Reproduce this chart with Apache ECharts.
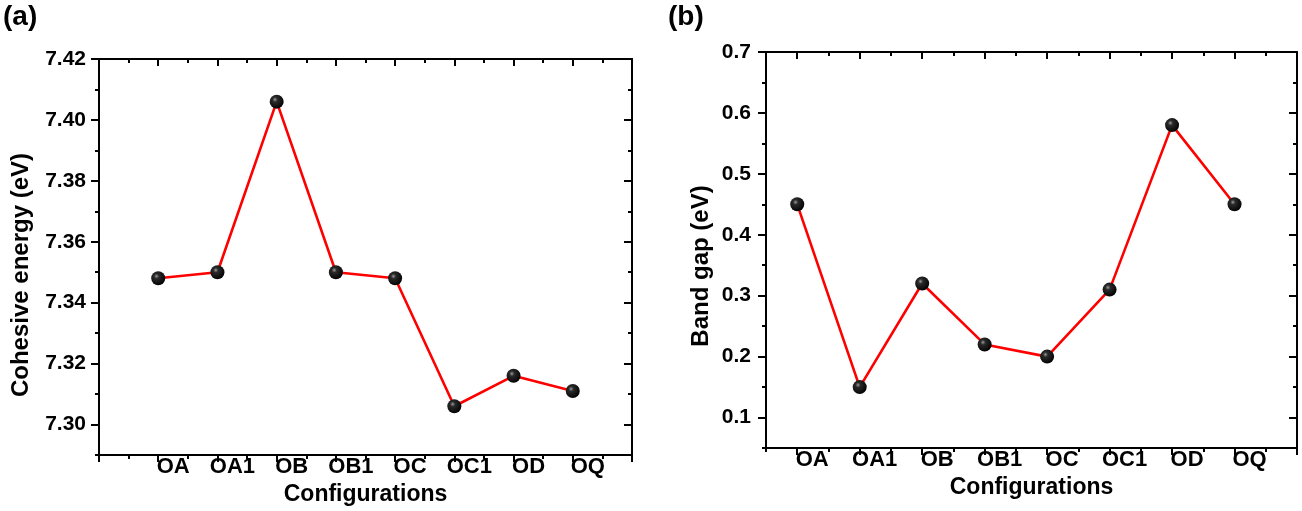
<!DOCTYPE html>
<html>
<head>
<meta charset="utf-8">
<script src="https://cdn.jsdelivr.net/npm/echarts@6/dist/echarts.min.js"></script>
<style>
html,body{margin:0;padding:0;background:#fff;}
#c{width:1302px;height:511px;}
</style>
</head>
<body>
<div id="c"></div>
<script>
// ---- data ----
const categories = ['OA', 'OA1', 'OB', 'OB1', 'OC', 'OC1', 'OD', 'OQ'];
const cohesiveEnergy = [7.348, 7.350, 7.406, 7.350, 7.348, 7.306, 7.316, 7.311];
const bandGap = [0.45, 0.15, 0.32, 0.22, 0.20, 0.31, 0.58, 0.45];
const cohesiveTicks = [7.30, 7.32, 7.34, 7.36, 7.38, 7.40, 7.42];
const cohesiveMinorTicks = [7.29, 7.31, 7.33, 7.35, 7.37, 7.39, 7.41];
const gapTicks = [0.1, 0.2, 0.3, 0.4, 0.5, 0.6, 0.7];
const gapMinorTicks = [0.05, 0.15, 0.25, 0.35, 0.45, 0.55, 0.65];
const catPositions = [1, 2, 3, 4, 5, 6, 7, 8];
const xMajorA = [0, 1, 2, 3, 4, 5, 6, 7, 8, 9];
const xMinorA = [0.5, 1.5, 2.5, 3.5, 4.5, 5.5, 6.5, 7.5, 8.5];
const xMajorB = [1, 2, 3, 4, 5, 6, 7, 8, 9];
const xMinorB = [0.5, 1.5, 2.5, 3.5, 4.5, 5.5, 6.5, 7.5, 8.5];

const FONT = "'Liberation Sans', Arial, sans-serif";
const BLACK = '#000';
const lineStyle = { color: BLACK, width: 2 };

function xAxesFor(g, min, max, majors, minors, nameGap) {
  const base = { gridIndex: g, type: 'value', min: min, max: max, splitLine: { show: false } };
  return [
    Object.assign({}, base, {
      position: 'bottom',
      axisLine: { show: true, onZero: false, lineStyle: lineStyle },
      axisTick: { show: true, inside: false, length: 7, customValues: majors, lineStyle: lineStyle },
      axisLabel: {
        show: true, customValues: catPositions, margin: 1,
        formatter: function (v) { return categories[Math.round(v) - 1] || ''; },
        color: BLACK, fontFamily: FONT, fontWeight: 'bold', fontSize: 22,
        align: 'center', padding: [0, 0, 0, 30]
      },
      name: 'Configurations', nameLocation: 'middle', nameGap: nameGap,
      nameTextStyle: { color: BLACK, fontFamily: FONT, fontWeight: 'bold', fontSize: 23 }
    }),
    Object.assign({}, base, {
      position: 'bottom',
      axisLine: { show: false, onZero: false },
      axisTick: { show: true, inside: false, length: 4, customValues: minors, lineStyle: lineStyle },
      axisLabel: { show: false }
    }),
    Object.assign({}, base, {
      position: 'top',
      axisLine: { show: true, onZero: false, lineStyle: lineStyle },
      axisTick: { show: true, inside: true, length: 7, customValues: majors, lineStyle: lineStyle },
      axisLabel: { show: false }
    }),
    Object.assign({}, base, {
      position: 'top',
      axisLine: { show: false, onZero: false },
      axisTick: { show: true, inside: true, length: 4, customValues: minors, lineStyle: lineStyle },
      axisLabel: { show: false }
    })
  ];
}

function yAxesFor(g, min, max, majors, minors, digits, name, nameGap, shift, margin) {
  const base = { gridIndex: g, type: 'value', min: min, max: max, splitLine: { show: false } };
  return [
    Object.assign({}, base, {
      position: 'left',
      axisLine: { show: true, onZero: false, lineStyle: lineStyle },
      axisTick: { show: true, inside: false, length: 8, customValues: majors, lineStyle: lineStyle },
      axisLabel: {
        show: true, customValues: majors, margin: margin,
        formatter: function (v) { return v.toFixed(digits); },
        color: BLACK, fontFamily: FONT, fontWeight: 'bold', fontSize: 21
      },
      name: name, nameLocation: 'middle', nameGap: nameGap,
      nameTextStyle: { color: BLACK, fontFamily: FONT, fontWeight: 'bold', fontSize: 24, padding: [0, shift * 2, 0, 0] }
    }),
    Object.assign({}, base, {
      position: 'left',
      axisLine: { show: false, onZero: false },
      axisTick: { show: true, inside: false, length: 4, customValues: minors, lineStyle: lineStyle },
      axisLabel: { show: false }
    }),
    Object.assign({}, base, {
      position: 'right',
      axisLine: { show: true, onZero: false, lineStyle: lineStyle },
      axisTick: { show: true, inside: true, length: 8, customValues: majors, lineStyle: lineStyle },
      axisLabel: { show: false }
    }),
    Object.assign({}, base, {
      position: 'right',
      axisLine: { show: false, onZero: false },
      axisTick: { show: true, inside: true, length: 4, customValues: minors, lineStyle: lineStyle },
      axisLabel: { show: false }
    })
  ];
}

const markerStyle = {
  color: {
    type: 'radial', x: 0.38, y: 0.35, r: 0.7,
    colorStops: [
      { offset: 0, color: '#9a9a9a' },
      { offset: 0.25, color: '#2a2a2a' },
      { offset: 1, color: '#000' }
    ]
  },
  borderWidth: 0
};

function toPoints(values) {
  return values.map(function (v, i) { return [catPositions[i], v]; });
}

const option = {
  animation: false,
  backgroundColor: '#fff',
  title: [
    { text: '(a)', left: -2, top: -2, textStyle: { fontFamily: FONT, fontWeight: 'bold', fontSize: 28, color: BLACK } },
    { text: '(b)', left: 663, top: -2, textStyle: { fontFamily: FONT, fontWeight: 'bold', fontSize: 28, color: BLACK } }
  ],
  grid: [
    { left: 99, top: 59, width: 533, height: 396 },
    { left: 766, top: 52, width: 531, height: 396 }
  ],
  xAxis: [].concat(
    xAxesFor(0, 0, 9, xMajorA, xMinorA, 26),
    xAxesFor(1, 0.5, 9, xMajorB, xMinorB, 28)
  ),
  yAxis: [].concat(
    yAxesFor(0, 7.29, 7.42, cohesiveTicks, cohesiveMinorTicks, 2, 'Cohesive energy (eV)', 66, 18, 13),
    yAxesFor(1, 0.05, 0.7, gapTicks, gapMinorTicks, 1, 'Band gap (eV)', 53, 16, 15)
  ),
  series: [
    {
      type: 'line', xAxisIndex: 0, yAxisIndex: 0,
      data: toPoints(cohesiveEnergy),
      symbol: 'circle', symbolSize: 14,
      lineStyle: { color: '#ff0000', width: 2.6 },
      itemStyle: markerStyle
    },
    {
      type: 'line', xAxisIndex: 4, yAxisIndex: 4,
      data: toPoints(bandGap),
      symbol: 'circle', symbolSize: 14,
      lineStyle: { color: '#ff0000', width: 2.6 },
      itemStyle: markerStyle
    }
  ]
};

const chart = echarts.init(document.getElementById('c'), null, { renderer: 'canvas' });
chart.setOption(option);
</script>
</body>
</html>
